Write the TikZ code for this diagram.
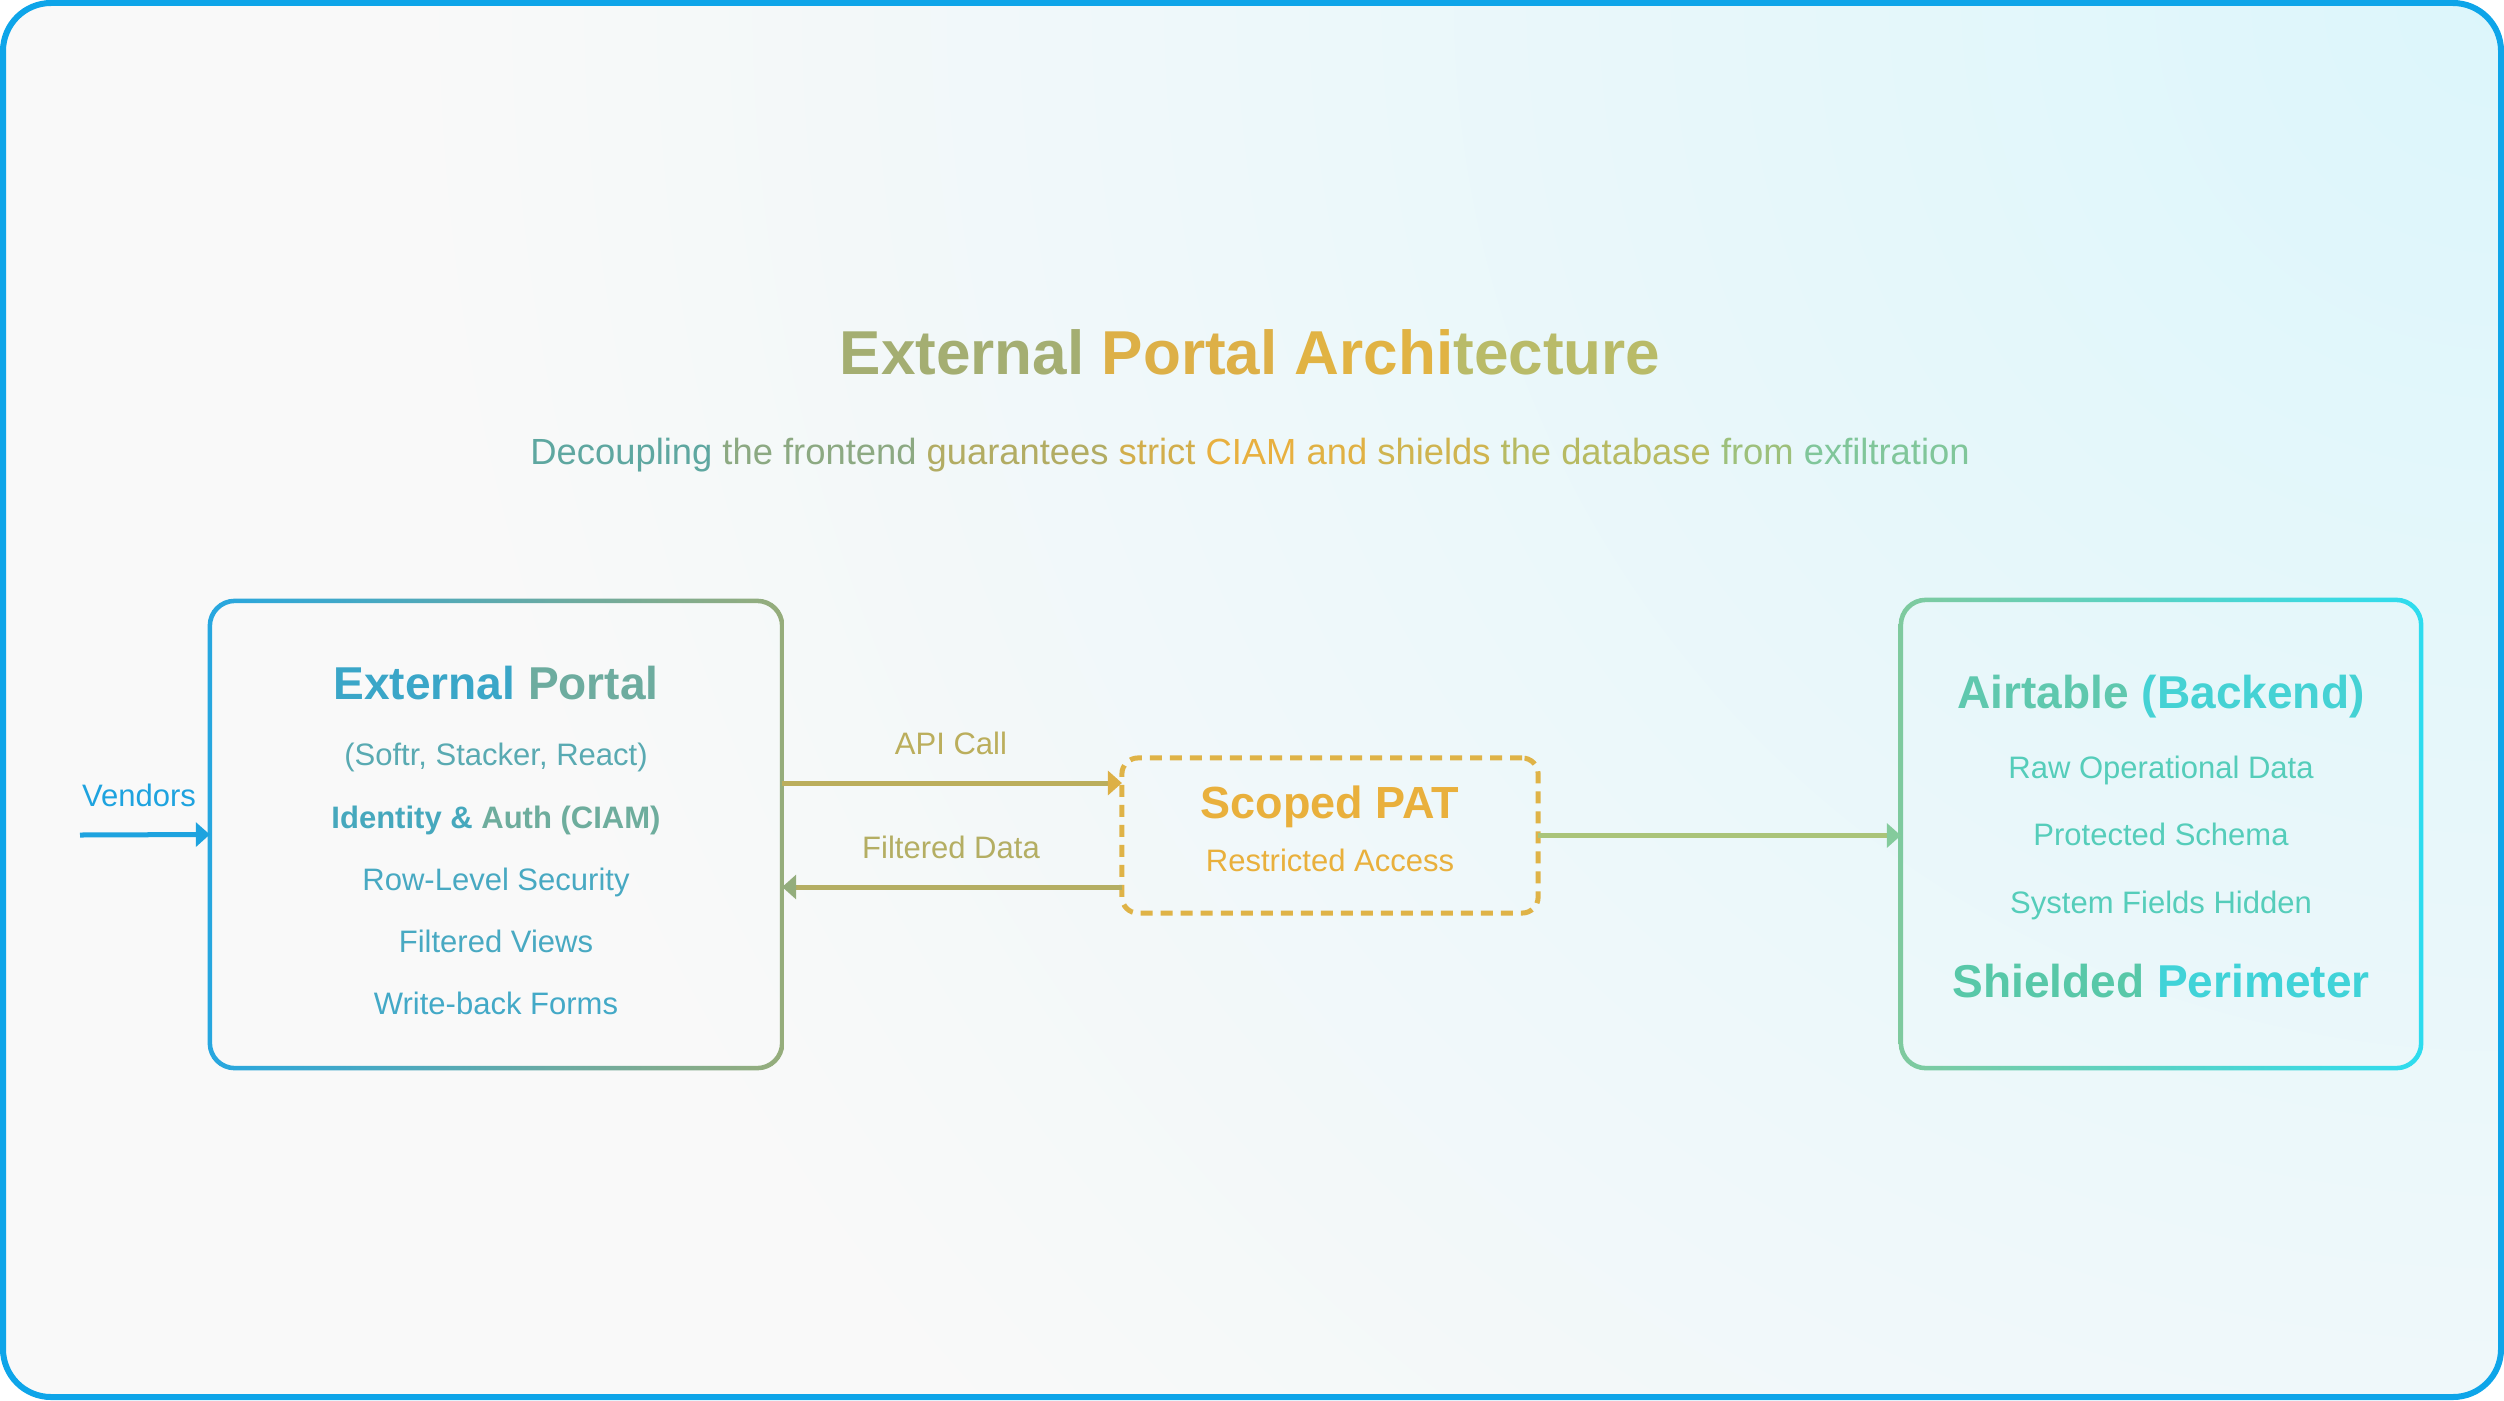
\documentclass[tikz,border=0pt]{standalone}
\usepackage{fontspec}
\setmainfont{Liberation Sans}
\usetikzlibrary{calc}
\usetikzlibrary{shadings}
\usetikzlibrary{arrows.meta}

\definecolor{framecol}{HTML}{0EA5E9}
\definecolor{bgB}{HTML}{DCF6FB}
\definecolor{bgC}{HTML}{F9F9F9}
\definecolor{vendorcol}{HTML}{1EA3DF}
\definecolor{portalL}{HTML}{27A7E0}
\definecolor{portalR}{HTML}{96AD7B}
\definecolor{patcol}{HTML}{DFB347}
\definecolor{pattext}{HTML}{E9B03C}
\definecolor{airL}{HTML}{7FCA9E}
\definecolor{airR}{HTML}{2DDCEF}
\definecolor{airtext}{HTML}{55CDBA}
\definecolor{apicol}{HTML}{BBAE5C}
\definecolor{apitip}{HTML}{DDB046}
\definecolor{backcol}{HTML}{B4AE63}
\definecolor{backtip}{HTML}{93AD7C}
\definecolor{rightcol}{HTML}{AAC479}
\definecolor{righttip}{HTML}{84CB9C}

\tikzset{
  boxframe/.style={inner sep=0pt, outer sep=0pt},
  headtext/.style={anchor=base, font=\fontsize{13.1}{15}\selectfont\bfseries},
  itemtext/.style={anchor=base, font=\fontsize{8.82}{10.5}\selectfont},
  link/.style={line width=0.05cm, -{Triangle[length=0.14cm,width=0.24cm,color=#1]}},
}

\begin{document}
\begin{tikzpicture}[x=0.01cm, y=-0.01cm]
  \useasboundingbox (0,0) rectangle (2504,1400);

  % background and frame
  \begin{scope}
    \clip [rounded corners=0.48cm] (3,3) rectangle (2501,1397);
    \fill [bgC] (0,0) rectangle (2504,1400);
    \shade [inner color=bgB, outer color=bgC] (2504,0) circle (21cm);
  \end{scope}
  \draw [framecol, line width=0.06cm, rounded corners=0.48cm] (3,3) rectangle (2501,1397);

  % heading
  \node [anchor=base, font=\fontsize{17.64}{20}\selectfont\bfseries] (title) at (1250,374)
    {\color[HTML]{A4AE72}External \color[HTML]{DDB047}Portal \color[HTML]{E1B343}Archi\color[HTML]{B9BB68}tecture};
  \node [anchor=base, font=\fontsize{10.34}{12}\selectfont] (subtitle) at (1250,464)
    {\color[HTML]{5EA7A0}Decoupling \color[HTML]{8CA982}the frontend \color[HTML]{B2AC63}guarantees
     \color[HTML]{D2AE4B}strict \color[HTML]{E8B03F}CIAM \color[HTML]{E0B143}and
     \color[HTML]{CFB44F}shields \color[HTML]{B7BA62}the database \color[HTML]{9DC07B}from
     \color[HTML]{80C69A}exfiltration};

  % boxes
  \node [boxframe, minimum width=5.72cm, minimum height=4.67cm] (portal) at (496,834.5) {};
  \node [boxframe, draw=patcol, line width=0.05cm, dash pattern=on 0.12cm off 0.08cm,
         rounded corners=0.16cm, minimum width=4.16cm, minimum height=1.55cm] (pat) at (1330,835.5) {};
  \node [boxframe, minimum width=5.2cm, minimum height=4.68cm] (airtable) at (2161,834) {};

  \shade [left color=portalL, right color=portalR, even odd rule]
    [rounded corners=0.27cm] ([shift={(-0.0225cm,-0.0225cm)}]portal.south west) rectangle ([shift={(0.0225cm,0.0225cm)}]portal.north east)
    [rounded corners=0.23cm] ([shift={(0.0225cm,0.0225cm)}]portal.south west) rectangle ([shift={(-0.0225cm,-0.0225cm)}]portal.north east);
  \shade [left color=airL, right color=airR, even odd rule]
    [rounded corners=0.27cm] ([shift={(-0.0225cm,-0.0225cm)}]airtable.south west) rectangle ([shift={(0.0225cm,0.0225cm)}]airtable.north east)
    [rounded corners=0.23cm] ([shift={(0.0225cm,0.0225cm)}]airtable.south west) rectangle ([shift={(-0.0225cm,-0.0225cm)}]airtable.north east);

  % portal text
  \node [headtext] (portalhead) at (496,699) {\color[HTML]{3AA6C8}External \color[HTML]{6DAC9F}Portal};
  \node [itemtext, text=portalL!55!portalR] (stack) at (496,765) {(Softr, Stacker, React)};
  \node [itemtext, font=\fontsize{8.82}{10.5}\selectfont\bfseries] (ciam) at (496,828)
    {\color[HTML]{46A8BD}Identity \& \color[HTML]{6EAD9D}Auth (CIAM)};
  \node [itemtext, text=portalL!70!portalR] (rls) at (496,890) {Row-Level Security};
  \node [itemtext, text=portalL!70!portalR] (views) at (496,952) {Filtered Views};
  \node [itemtext, text=portalL!75!portalR] (forms) at (496,1014) {Write-back Forms};

  % token text
  \node [headtext, text=pattext, font=\fontsize{12.8}{15}\selectfont\bfseries] (pathead) at (1330,818) {Scoped PAT};
  \node [itemtext, text=pattext] (patsub) at (1330,871) {Restricted Access};

  % airtable text
  \node [headtext] (airhead) at (2161,708) {\color[HTML]{5FC8AE}Airtable \color[HTML]{45D2D4}(Backend)};
  \node [itemtext, text=airtext] (rawdata) at (2161,778) {Raw Operational Data};
  \node [itemtext, text=airtext] (schema) at (2161,845) {Protected Schema};
  \node [itemtext, text=airtext] (hidden) at (2161,913) {System Fields Hidden};
  \node [headtext] (perimeter) at (2161,997) {\color[HTML]{58C8A8}Shielded \color[HTML]{40D3D8}Perimeter};

  % connectors
  \node [itemtext, text=vendorcol] (vendors) at (139,806) {Vendors};
  \coordinate (vin) at (80,835);
  \coordinate (api) at (0,783);
  \coordinate (back) at (0,887);
  \draw [link=vendorcol, vendorcol] (vin) -- (portal.west);
  \draw [link=apitip, apicol] (portal.east |- api) -- (pat.west |- api);
  \draw [link=backtip, backcol] (pat.west |- back) -- (portal.east |- back);
  \draw [link=righttip, rightcol] (pat.east) -- (pat.east -| airtable.west);
  \node [itemtext, text=apicol] (apilabel) at (951,754) {API Call};
  \node [itemtext, text=backcol] (backlabel) at (951,858) {Filtered Data};
\end{tikzpicture}
\end{document}
